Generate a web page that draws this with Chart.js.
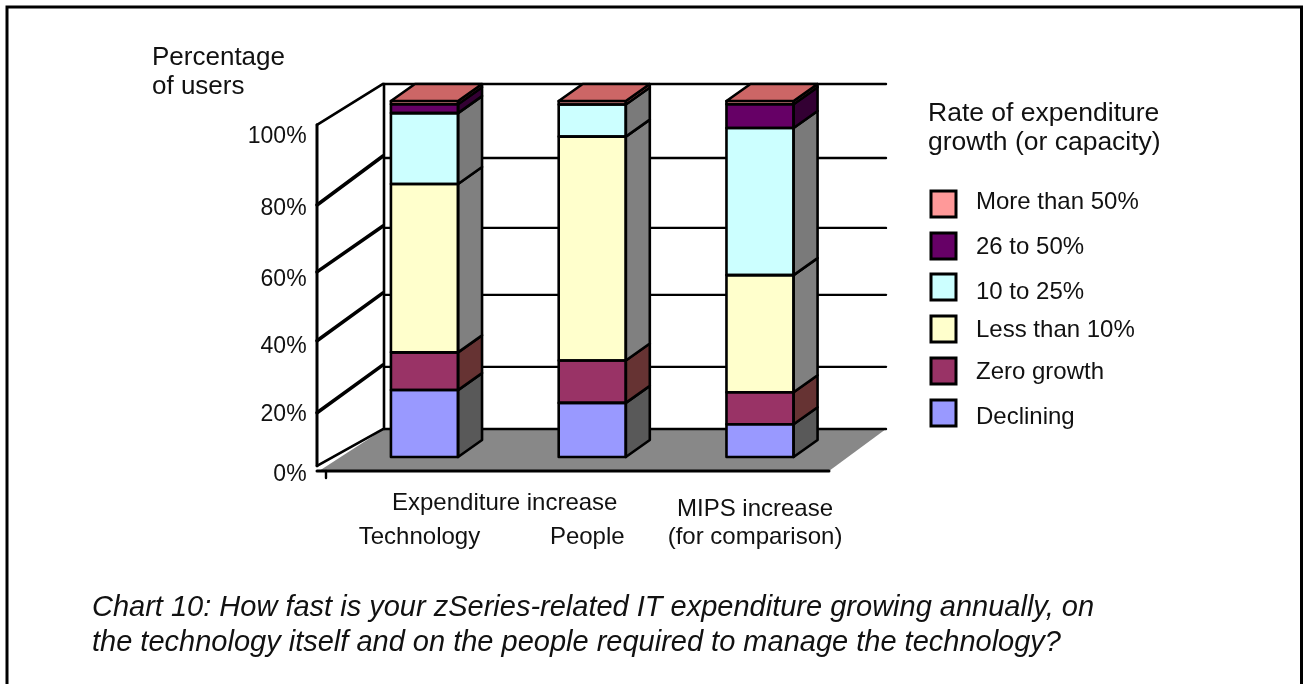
<!DOCTYPE html>
<html>
<head>
<meta charset="utf-8">
<title>Chart 10</title>
<script src="https://cdn.jsdelivr.net/npm/chart.js@4/dist/chart.umd.min.js"></script>
<style>
html,body{margin:0;padding:0;background:#fff;overflow:hidden;}
canvas{display:block;}
</style>
</head>
<body>
<canvas id="grafico" width="1303" height="684"></canvas>
<script>
/* categories and series, percent of users */
const categories = [["","Technology"],["","People"],["MIPS increase","(for comparison)"]];

const declining = [18.8,15.2,9.2];
const zeroGrowth = [10.6,11.9,9.0];
const lessThan10 = [47.3,62.9,32.9];
const from10to25 = [19.9,9.0,41.3];
const from26to50 = [2.5,0,6.7];
const moreThan50 = [0.9,1.0,0.9];

/* the hand drawn axis is not evenly spaced, levels are read on the wall scale */
const tickLabels = ["0%","20%","40%","60%","80%","100%"];
const tickLevels = [0,18,37.9,57.7,78.7,100];
const frontWallLevels = [2.7,18.4,39.7,60.1,79.9,103.6];
const backWallLevels = [13.6,32,53.3,73.1,93.8,115.7];

const captionLines = [
  "Chart 10: How fast is your zSeries-related IT expenditure growing annually, on",
  "the technology itself and on the people required to manage the technology?"
];

const FONT = '"Liberation Sans", Arial, sans-serif';

/* box geometry */
const frontX = 317, backX = 384, rightX = 886, floorFrontY = 471, floorRightX = 829;
const depthX = 24, depthY = -17;

const series = [
  {label:"Declining", data:declining, fill:"#9999ff", side:"#595959"},
  {label:"Zero growth", data:zeroGrowth, fill:"#993366", side:"#663333"},
  {label:"Less than 10%", data:lessThan10, fill:"#ffffcc", side:"#808080"},
  {label:"10 to 25%", data:from10to25, fill:"#ccffff", side:"#7a7a7a"},
  {label:"26 to 50%", data:from26to50, fill:"#660066", side:"#330033"},
  {label:"More than 50%", data:moreThan50, fill:"#ff9999", side:"#cc6666"}
];

/* legend rows, top to bottom */
const legendBoxTop = [191,233,274,316,358,400];
const legendTextBase = [209,254,299,337,379,424];

function line(ctx,x1,y1,x2,y2,w){
  ctx.lineWidth = w;
  ctx.beginPath();
  ctx.moveTo(x1,y1);
  ctx.lineTo(x2,y2);
  ctx.stroke();
}

function poly(ctx,pts,fill){
  ctx.beginPath();
  pts.forEach(function(p,i){ if(i==0) ctx.moveTo(p[0],p[1]); else ctx.lineTo(p[0],p[1]); });
  ctx.closePath();
  if(fill){ ctx.fillStyle = fill; ctx.fill(); }
  ctx.lineWidth = 2.6;
  ctx.strokeStyle = "#000";
  ctx.stroke();
}

/* floor, walls and grid lines behind the bars */
const paredes = {
  id:"paredes",
  beforeDatasetsDraw(chart){
    const ctx = chart.ctx;
    const wall = chart.scales.yWall;
    ctx.save();
    ctx.lineCap = "round";
    ctx.strokeStyle = "#000";

    const front = frontWallLevels.map(function(v){ return wall.getPixelForValue(v); });
    const back = backWallLevels.map(function(v){ return wall.getPixelForValue(v); });

    ctx.fillStyle = "#888888";
    ctx.beginPath();
    ctx.moveTo(frontX+2,floorFrontY);
    ctx.lineTo(backX,back[0]);
    ctx.lineTo(rightX,back[0]);
    ctx.lineTo(floorRightX,floorFrontY);
    ctx.closePath();
    ctx.fill();

    line(ctx,frontX,front[0],frontX,front[5],3);
    line(ctx,backX,back[0],backX,back[5],2.6);
    back.forEach(function(y){ line(ctx,backX,y,rightX,y,2.4); });
    front.forEach(function(y,i){
      const w = (i==0 || i==5) ? 2.6 : 3.6;
      line(ctx,frontX,y,backX-1,back[i]-((i==0 || i==5) ? 0 : 2),w);
    });

    line(ctx,frontX,floorFrontY,floorRightX,floorFrontY,3);
    line(ctx,326,floorFrontY,326,478,2.4);
    ctx.restore();
  }
};

/* side faces, top faces and outlines on the bars */
const caras = {
  id:"caras",
  afterDatasetsDraw(chart){
    const ctx = chart.ctx;
    ctx.save();
    ctx.lineJoin = "round";
    chart.data.datasets.forEach(function(ds,d){
      chart.getDatasetMeta(d).data.forEach(function(bar){
        if(Math.abs(bar.base-bar.y) < 0.5) return;
        const l = bar.x-bar.width/2, r = bar.x+bar.width/2;
        poly(ctx,[[r,bar.y],[r+depthX,bar.y+depthY],[r+depthX,bar.base+depthY],[r,bar.base]],series[d].side);
        poly(ctx,[[l,bar.y],[r,bar.y],[r,bar.base],[l,bar.base]],null);
      });
    });
    const last = chart.getDatasetMeta(chart.data.datasets.length-1).data;
    last.forEach(function(bar){
      const l = bar.x-bar.width/2, r = bar.x+bar.width/2;
      poly(ctx,[[l,bar.y],[r,bar.y],[r+depthX,bar.y+depthY],[l+depthX,bar.y+depthY]],"#cc6666");
    });
    ctx.restore();
  }
};

/* frame, axis title, group label, legend and caption */
const textos = {
  id:"textos",
  afterDraw(chart){
    const ctx = chart.ctx;
    ctx.save();
    ctx.fillStyle = "#111";
    ctx.textBaseline = "alphabetic";
    ctx.textAlign = "left";

    ctx.font = "26px "+FONT;
    ctx.fillText("Percentage",152,65);
    ctx.fillText("of users",152,94);

    ctx.font = "24px "+FONT;
    ctx.fillText("Expenditure increase",392,510);

    ctx.font = "26.5px "+FONT;
    ctx.fillText("Rate of expenditure",928,121);
    ctx.fillText("growth (or capacity)",928,150);

    ctx.font = "24px "+FONT;
    series.slice().reverse().forEach(function(s,i){
      ctx.fillStyle = s.fill;
      ctx.strokeStyle = "#000";
      ctx.lineWidth = 3;
      ctx.fillRect(931,legendBoxTop[i],25,26);
      ctx.strokeRect(931,legendBoxTop[i],25,26);
      ctx.fillStyle = "#111";
      ctx.fillText(s.label,976,legendTextBase[i]);
    });

    ctx.font = "italic 29px "+FONT;
    ctx.fillText(captionLines[0],92,616);
    ctx.fillText(captionLines[1],92,651);

    ctx.strokeStyle = "#000";
    ctx.lineWidth = 3;
    ctx.beginPath();
    ctx.moveTo(7,690);
    ctx.lineTo(7,7);
    ctx.lineTo(1301.5,7);
    ctx.lineTo(1301.5,690);
    ctx.stroke();
    ctx.restore();
  }
};

new Chart(document.getElementById("grafico"),{
  type:"bar",
  data:{
    labels:categories,
    datasets:series.map(function(s){
      return {
        label:s.label,
        data:s.data,
        backgroundColor:s.fill,
        borderWidth:0,
        barPercentage:0.4,
        categoryPercentage:1,
        yAxisID:"y"
      };
    })
  },
  plugins:[paredes,caras,textos],
  options:{
    responsive:false,
    maintainAspectRatio:false,
    animation:false,
    layout:{padding:{top:84,right:459.1,bottom:0,left:0}},
    plugins:{legend:{display:false},tooltip:{enabled:false}},
    scales:{
      x:{
        stacked:true,
        grid:{display:false},
        border:{display:false},
        afterFit(scale){ scale.height = 209; },
        ticks:{
          color:"#111",
          padding:12,
          labelOffset:-5,
          maxRotation:0,
          autoSkip:false,
          font:{family:FONT,size:24,lineHeight:1.18}
        }
      },
      y:{
        stacked:true,
        display:false,
        min:-5.056,
        max:104.775
      },
      yWall:{
        position:"left",
        min:0,
        max:115.68,
        grid:{display:false,drawTicks:false},
        border:{display:false},
        afterFit(scale){ scale.width = 340.6; },
        afterBuildTicks(scale){
          scale.ticks = tickLevels.map(function(v){ return {value:v}; });
        },
        ticks:{
          color:"#111",
          padding:34,
          autoSkip:false,
          font:{family:FONT,size:23},
          callback(value,index){ return tickLabels[index]; }
        }
      }
    }
  }
});
</script>
</body>
</html>
